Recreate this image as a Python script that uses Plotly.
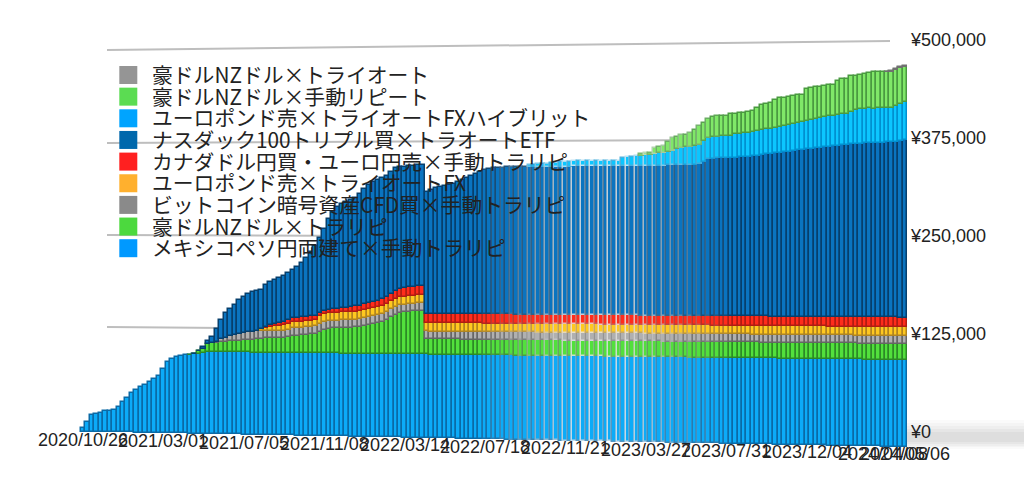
import pandas as pd
import plotly.graph_objects as go

# Values in thousands of yen, one per weekly bar (185 bars)
weeks = [d.strftime("%Y/%m/%d") for d in pd.date_range("2020-10-26", "2024-05-06", freq="7D")]

tick_labels = ["2020/10/26", "2021/03/01", "2021/07/05", "2021/11/08", "2022/03/14", "2022/07/18",
               "2022/11/21", "2023/03/27", "2023/07/31", "2023/12/04", "2024/04/08", "2024/05/06"]
y_ticks = [0, 125000, 250000, 375000, 500000]
y_tick_labels = ["¥0", "¥125,000", "¥250,000", "¥375,000", "¥500,000"]

mexico = [4.7,12.9,22.4,24.5,25.9,28.0,28.8,29.6,33.7,40.5,45.9,52.7,56.7,60.9,64.3,67.7,71.7,75.8,85.2,94.6,
98.3,101.1,102.4,103.8,104.6,105.4,106.1,107.5,
108.8,108.8,108.8,108.8,108.8,108.8,108.8,108.8,108.8,108.8,108.8,108.8,108.8,108.8,108.8,108.8,108.8,108.8,108.8,108.8,
108.8,108.8,108.8,108.8,108.8,108.8,108.8,108.8,108.8,108.8,108.8,108.8,108.8,108.8,108.8,108.8,108.8,108.8,108.8,108.8,
108.8,108.8,108.8,108.8,108.8,108.8,108.8,108.8,108.8,108.8,108.8,108.8,108.8,108.8,108.8,108.8,108.8,108.8,108.8,108.8,
108.8,108.8,108.8,108.8,108.8,108.8,108.8,108.8,108.8,108.8,108.8,108.8,108.8,108.8,108.8,108.8,108.8,108.8,108.8,108.8,
108.8,108.8,108.8,108.8,108.8,108.8,108.8,108.8,108.8,108.8,108.8,108.8,108.8,108.8,108.8,108.8,108.8,108.8,108.8,108.8,
108.8,108.8,108.8,108.8,108.8,108.8,108.8,108.8,108.8,108.8,108.8,108.8,108.8,108.8,108.8,108.8,108.8,108.8,108.8,108.8,
108.8,108.8,108.8,108.8,108.8,108.8,108.8,108.8,108.8,108.8,108.8,108.8,108.8,108.8,108.8,108.8,108.8,108.8,108.8,108.8,
108.8,108.8,108.8,108.8,108.8,108.8,108.8,108.8,108.8,108.8,108.8,108.8,108.8,108.8,108.8,108.8,108.8]

aud_trarepi = [0,0,0,0,0,0,0,0,0,0,0,0,0,0,0,0,0,0,0,0,0,0,0,0,
0.5,0.7,3.3,5.3,10.8,11.4,12.2,13.5,14,14.4,15.1,15.5,16,16.5,17,18,18,18.8,19,19.2,19.3,19.5,20.4,22.4,23,23.4,
24,24.6,25.3,28,30.7,32,32.8,33.2,33.4,33.8,34,34.5,35,36.4,37.7,39,40.5,42.4,45,48.3,51.6,53.7,54.7,55.4,56,56.6,56.7,
20,20,20,20,20,20,20,20,20,20,20,20,20,20,20,20,20,20,20,20,20,20,20,20,20,20,20,20,20,20,20,20,20,20,20,20,
20,20,20,20,20,20,20,20,20,20,20,20,20,20,20,20,20,20,20,20,20,20,20,20,20,20,20,20,20,20,20,20,20,20,20,20,
20,20,20,20,20,20,20,20,20,20,20,20,20,20,20,20,20,20,20,20,20,20,20,20,20,20,20,20,20,20,20,20,20,20,20,20]

bitcoin = [0,0,0,0,0,0,0,0,0,0,0,0,0,0,0,0,0,0,0,0,0,0,0,0,0,0,0,0,0,0,
1.3,4.5,5,6.5,7.5,8.7,
10,10,10,10,10,10,10,10,10,10,10,10,10,10,10,10,10,10,10,10,10,10,10,10,10,10,10,10,10,10,10,10,10,10,10,10,10,
10,10,10,10,10,10,10,10,10,10,10,10,10,10,10,10,10,10,10,10,10,10,10,10,10,10,10,10,10,10,10,10,10,10,10,10,
10,10,10,10,10,10,10,10,10,10,10,10,10,10,10,10,10,10,10,10,10,10,10,10,10,10,10,10,10,10,10,10,10,10,10,10,
10,10,10,10,10,10,10,10,10,10,10,10,10,10,10,10,10,10,10,10,10,10,10,10,10,10,10,10,10,10,10,10,10,10,10,10,10,10,10,10]

eurgbp_fx = [0,0,0,0,0,0,0,0,0,0,0,0,0,0,0,0,0,0,0,0,0,0,0,0,0,0,0,0,0,0,0,0,0,0,0,0,0,0,
0.6,1,2.6,3.5,4.5,5.5,6.5,7.5,8,
8,8,8,8,8,8,
10.5,10.5,10.5,10.5,10.5,10.5,10.5,10.5,10.5,10.5,10.5,10.5,10.5,10.5,10.5,10.5,10.5,10.5,10.5,10.5,10.5,10.5,10.5,10.5,
11,11,11,11,11,11,11,11,11,11,11,11,11,11,11,11,11,11,11,11,11,11,11,11,11,11,11,11,11,11,11,11,11,11,11,11,
11,11,11,11,11,11,11,11,11,11,11,11,11,11,11,11,11,11,11,11,11,11,11,11,11,11,11,11,11,11,11,11,11,11,11,11,
11,11,11,11,11,11,11,11,11,11,11,11,11,11,11,11,11,11,11,11,11,11,11,11,11,11,11,11,11,11,11,11,11,11,11,11]

cad_eur = [0,0,0,0,0,0,0,0,0,0,0,0,0,0,0,0,0,0,0,0,0,0,0,0,0,0,0,0,0,0,0,0,0,0,0,0,0,0,0,0,
1,1.3,2.6,2.8,3,3.8,4.5,5.3,5.5,5.6,5.8,6,6.2,4.5,4.5,4.5,5,5.3,5.6,6,6.5,7,7.5,7.8,8,8.3,8.7,9,9.6,10.3,11,11.2,11.4,11.6,11.7,11.8,11.8,
12,12,12,12,12,12,12,12,12,12,12,12,12,12,12,12,12,12,12,12,12,12,12,12,12,12,12,12,12,12,12,12,12,12,12,12,
12,12,12,12,12,12,12,12,12,12,12,12,12,12,12,12,12,12,12,12,12,12,12,12,12,12,12,12,12,12,12,12,12,12,12,12,
12,12,12,12,12,12,12,12,12,12,12,12,12,12,12,12,12,12,12,12,12,12,12,12,12,12,12,12,12,12,12,12,12,12,12,12]

nasdaq_etf = [0,0,0,0,0,0,0,0,0,0,0,0,0,0,0,0,0,0,0,0,0,0,0,0,0,
0.4,0.6,2.6,3.8,8.5,17.2,24.6,33,36.6,40.2,45.3,47.4,51,52,51.9,51.4,56,57.5,58.9,60.2,61,62.8,64.1,67.1,72,
77.8,84.9,92,99.2,108.2,120.2,127.9,134,137.3,139.2,140.8,142.5,146.6,151.6,155.2,157.7,158.3,158.7,158,159.4,160.5,159.6,158.3,158.7,157.9,157.9,157.7,
159,161.4,164.2,165.2,166.7,167.9,169.2,171.8,174.5,177.2,179.6,182.2,184.8,187.5,188.6,189.4,189.8,189.9,190.4,190.6,191.1,191.1,191,
191,191,191,191,191,191,191,191,191,191,191,191,191,191,191,191,191,191,191,191,191,191,191,191,191,191,191.2,191.2,191.2,191.5,191.5,191.7,191.8,192,192,192.2,
192,192.7,193.2,196.2,199.5,200,200.4,200.6,200.7,200.7,201.2,201.5,201.8,202,202.7,203.4,204.2,205.2,206,206.5,206.6,207.6,208.3,208.8,210.2,210.7,211.3,211.7,212.5,213,213.7,214.2,214.9,215.3,215.9,216.1,216.9,217.3,217.8,218.2,218.5,218.4,218.7,218.7,219.1,219.1,220.1,221.2,221.9]

eurgbp_hybrid = [0,0,0,0,0,0,0,0,0,0,0,0,0,0,0,0,0,0,0,0,0,0,0,0,0,0,0,0,0,0,0,0,0,0,0,0,0,0,0,0,0,0,0,0,0,0,0,0,0,0,
0,0,0,0,0,0,0,0,0,0,0,0,0,0,0,0,0,0,0,0,0,0,0,0,0,0,0,0,0,0,0,0,0,0,0,0,0,0,0,0,0,0,0,0,0,0,0,0,0,0,
2.6,2.6,3.9,3.9,3.9,5.1,5.1,6.4,6.4,6.4,6.5,6.5,6.6,6.7,6.7,6.8,6.8,6.9,6.9,7,7,
10.9,11.5,12.1,13.4,13.4,13.4,14,15.3,16,16.6,17.2,17.8,21,22.3,22.3,22.9,23.5,24.2,26,27.3,27.3,27.7,27.9,27.9,28.3,29.8,30,30.4,30.6,30.8,31,31.6,31.6,31.6,31.6,32.8,32.8,33.4,34,34.7,35.3,35.9,36.5,37.1,37.1,37.7,38.4,38.3,38.6,38.7,38.9,40.8,42.7,42.9,43,43.3,43.2,43.6,43.4,43.2,43.5,45,46.3,47.5]

aud_manual = [0,0,0,0,0,0,0,0,0,0,0,0,0,0,0,0,0,0,0,0,0,0,0,0,0,0,0,0,0,0,0,0,0,0,0,0,0,0,0,0,0,0,0,0,0,0,0,0,0,0,
0,0,0,0,0,0,0,0,0,0,0,0,0,0,0,0,0,0,0,0,0,0,0,0,0,0,0,0,0,0,0,0,0,0,0,0,0,0,0,0,0,0,0,0,0,0,0,0,0,0,
0,0,0,0,0,0,0,0,0,0,0,0,0,0,0,0,0,0,0,0,0,0,0,0,0,
1.9,3.2,2.6,7.6,8.3,8.9,12.1,16.5,15.3,16.5,15.9,17.8,20.4,24.2,22.9,23.5,25.4,26,25.4,25.4,27.3,25.4,26,25.3,26,26.6,29.1,31.6,31.6,32.2,35.4,36.6,35.3,35.3,35.3,34.7,33.4,39.7,39.7,39.7,39,39,39,38.3,42.7,44.6,44,45.2,42.7,43.3,43.9,44.5,45.7,45.1,45.1,45.1,45,44.4,44.4,43.8]

aud_triauto = [0,0,0,0,0,0,0,0,0,0,0,0,0,0,0,0,0,0,0,0,0,0,0,0,0,0,0,0,0,0,0,0,0,0,0,0,0,0,0,0,0,0,0,0,0,0,0,0,0,0,
0,0,0,0,0,0,0,0,0,0,0,0,0,0,0,0,0,0,0,0,0,0,0,0,0,0,0,0,0,0,0,0,0,0,0,0,0,0,0,0,0,0,0,0,0,0,0,0,0,0,
0,0,0,0,0,0,0,0,0,0,0,0,0,0,0,0,0,0,0,0,0,0,0,0,0,0,0,0,0,0,0,0,0,0,0,0,0,0,0,0,0,0,0,0,0,0,0,0,0,0,
0,0,0,0,0,0,0,0,0,0,0,0,0,0,0,0,0,0,0,0,0,0,0,0,0,0,0,0,0,0,0.3,0.5,0.8,0.8,1.0]

series = [
    ("メキシコペソ円両建て×手動トラリピ", mexico, "#0CABF8", "#0A6AA6", "#0099FF"),
    ("豪ドルNZドル×トラリピ", aud_trarepi, "#52E03C", "#2C8A26", "#4CD93E"),
    ("ビットコイン暗号資産CFD買×手動トラリピ", bitcoin, "#B0B0B0", "#666666", "#8A8A8A"),
    ("ユーロポンド売×トライオートFX", eurgbp_fx, "#FFC820", "#B08420", "#FFB02E"),
    ("カナダドル円買・ユーロ円売×手動トラリピ", cad_eur, "#FF2C1C", "#B01C12", "#FF2020"),
    ("ナスダック100トリプル買×トラオートETF", nasdaq_etf, "#0A74C0", "#063F6C", "#0068AC"),
    ("ユーロポンド売×トライオートFXハイブリット", eurgbp_hybrid, "#0CC6FF", "#0090D0", "#00A4FF"),
    ("豪ドルNZドル×手動リピート", aud_manual, "#80E868", "#4A9A40", "#5BDC52"),
    ("豪ドルNZドル×トライオート", aud_triauto, "#A0A0A0", "#707070", "#959595"),
]

n = len(weeks)
bad = [len(s[1]) for s in series]
assert all(b == n for b in bad), (n, bad)

PX_PER_YEN = 98 / 125000


def floor_drop(i):
    return (15.5 * i / 184 - 0.5) / PX_PER_YEN


def depth_scale(i):
    return (93 + 7 * i / 184) / 98


def mix(c1, c2, t):
    a = [int(c1[k:k + 2], 16) for k in (1, 3, 5)]
    b = [int(c2[k:k + 2], 16) for k in (1, 3, 5)]
    return "rgb(%d,%d,%d)" % tuple(round(x + (y - x) * t) for x, y in zip(a, b))


def stripe_fade(i):
    if i < 88 or i > 146:
        return 0
    t = min((i - 88) / 22, 1) if i < 116 else max((146 - i) / 24, 0)
    t = min(t, 1)
    return t * (0.75 if i % 2 == 0 else 0.3)


fig = go.Figure()
tops = [0.0] * n
for name, vals, face, dark, _sw in series:
    base = [-floor_drop(i) + tops[i] * 1000 * depth_scale(i) for i in range(n)]
    height = [vals[i] * 1000 * depth_scale(i) for i in range(n)]
    fig.add_trace(go.Bar(
        x=weeks, y=height, base=base, name=name, width=1, showlegend=False,
        marker=dict(color=face, line=dict(
            color=[mix(dark, "#FFFFFF", stripe_fade(i)) for i in range(n)],
            width=[1.5 if v > 0 else 0 for v in vals])),
    ))
    tops = [tops[i] + vals[i] for i in range(n)]

W, H = 1024, 480


def px(x):
    return x / W


def py(y):
    return 1 - y / H


shapes = []
for (x0, y0, x1, y1) in [(107, 50, 890, 41), (107, 143, 890, 139), (107, 235, 890, 238), (107, 327, 890, 333)]:
    shapes.append(dict(type="line", xref="paper", yref="paper", x0=px(x0), y0=py(y0), x1=px(x1), y1=py(y1),
                       line=dict(color="#BEBEBE", width=2), layer="below"))
for (y0, y1, a) in [(420, 449, .02), (423, 447, .025), (426, 446, .025), (429, 444, .03), (432, 442, .03)]:
    shapes.append(dict(type="rect", xref="paper", yref="paper", x0=px(907), x1=1, y0=py(y0), y1=py(y1),
                       line=dict(width=0), fillcolor="rgba(0,0,0,%s)" % a, layer="below"))

annotations = []
legend_rows = list(reversed(series))
for k, (name, _v, _f, _d, sw) in enumerate(legend_rows):
    yc = 75 + 21.65 * k
    shapes.append(dict(type="rect", xref="paper", yref="paper", x0=px(119.3), x1=px(137.3),
                       y0=py(yc - 9), y1=py(yc + 9), line=dict(width=0), fillcolor=sw, layer="above"))
    annotations.append(dict(xref="paper", yref="paper", x=px(149.5), y=py(yc - 1), xanchor="left", yanchor="middle",
                            text=name, showarrow=False, font=dict(family="Noto Sans CJK JP", size=20.8, color="#222222")))

tick_pos = [0, 18, 36, 54, 72, 90, 108, 126, 144, 162, 179, 184]
for lab, i in zip(tick_labels, tick_pos):
    annotations.append(dict(xref="x", yref="paper", x=weeks[i], y=py(440 + 14 * i / 184), xanchor="center",
                            yanchor="middle", text=lab, showarrow=False,
                            font=dict(family="Liberation Sans", size=18, color="#222222")))

fig.update_layout(
    width=W, height=H, autosize=False, margin=dict(l=0, r=0, t=0, b=0),
    paper_bgcolor="white", plot_bgcolor="rgba(0,0,0,0)", barmode="overlay", bargap=0,
    shapes=shapes, annotations=annotations,
    xaxis=dict(type="category", domain=[0, 910 / W], range=[-18.58, 185.1], visible=False),
    yaxis=dict(domain=[0, 1], range=[-48 / PX_PER_YEN, 432 / PX_PER_YEN], side="right",
               tickvals=y_ticks, ticktext=y_tick_labels, showgrid=False, zeroline=False, showline=False,
               ticks="", tickfont=dict(family="Liberation Sans", size=18, color="#222222")),
)
fig.write_html("out.html", config={"displayModeBar": False},
               post_script="document.body.style.margin='0';")
